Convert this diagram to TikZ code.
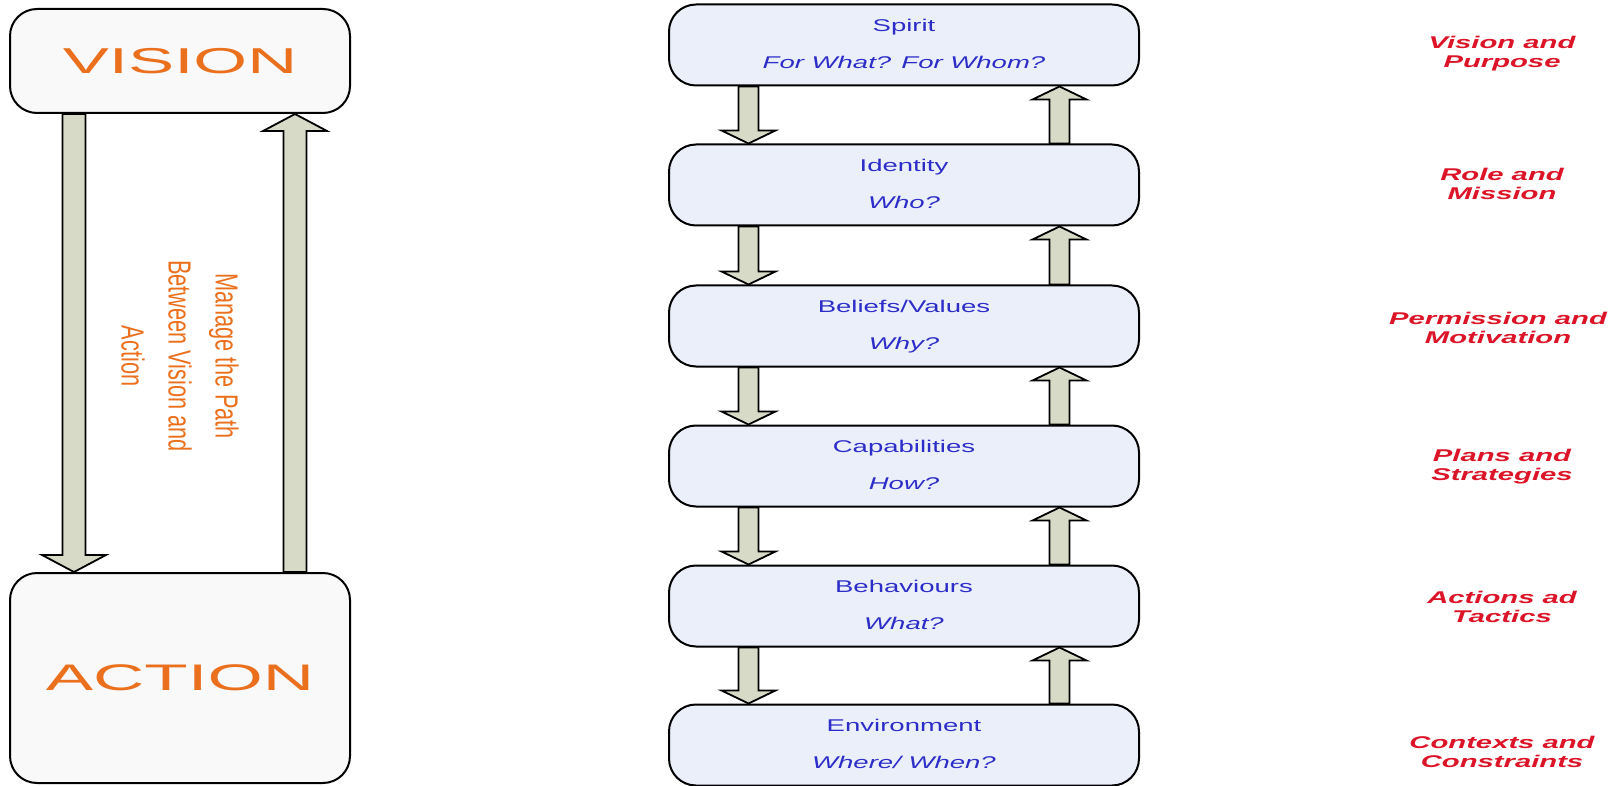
\documentclass[tikz,border=0pt]{standalone}
\usepackage{fontspec}
\setmainfont{Liberation Sans}
\newfontfamily\levelfont[FakeStretch=1.62]{Liberation Sans}
\newfontfamily\tagfont[FakeStretch=1.72]{Liberation Sans}
\newfontfamily\bigfont[FakeStretch=1.92]{Liberation Sans}
\newfontfamily\narrowfont[FakeStretch=0.68]{Liberation Sans}
\usetikzlibrary{calc}

\definecolor{levelblue}{RGB}{45,45,200}
\definecolor{levelfill}{RGB}{234,239,250}
\definecolor{pathfill}{RGB}{249,249,249}
\definecolor{arrowfill}{RGB}{216,218,200}
\definecolor{visorange}{RGB}{235,112,30}
\definecolor{tagred}{RGB}{220,20,40}

\newcommand{\lvstrut}{\rule[-6pt]{0pt}{22pt}}
\def\shaft{10pt}
\def\headw{27pt}
\def\headlen{13pt}
% block arrow from the edge of one box to the edge of the other, at height x
\newcommand{\fatarrow}[3]{%
  \draw[fatarr] let \p1=(#1), \p2=(#2), \n1={sign(\y2-\y1)}, \n2={\y2-(\n1)*\headlen} in
    ({#3pt-\shaft},\y1) -- ({#3pt-\shaft},\n2) -- ({#3pt-\headw},\n2)
    -- (#3pt,\y2) -- ({#3pt+\headw},\n2) -- ({#3pt+\shaft},\n2)
    -- ({#3pt+\shaft},\y1) -- cycle;}

\tikzset{
  level/.style={draw, line width=2pt, rounded corners=27pt, fill=levelfill,
    minimum width=470pt, minimum height=81pt, align=center, text=levelblue,
    font=\levelfont\fontsize{17}{37}\selectfont},
  pathbox/.style={draw, line width=2pt, rounded corners=27pt, fill=pathfill,
    minimum width=340pt, text=visorange},
  tag/.style={text=tagred, align=center,
    font=\tagfont\bfseries\itshape\fontsize{17}{19}\selectfont},
  fatarr/.style={draw, line width=1.8pt, fill=arrowfill, line join=miter},
}

\begin{document}
\begin{tikzpicture}[x=1pt, y=-1pt]
	\useasboundingbox (0,0) rectangle (1619,786);

	\node[pathbox, minimum height=104pt, font=\bigfont\fontsize{36}{40}\selectfont] (vision) at (180,61) {VISION};
	\node[pathbox, minimum height=210pt, font=\bigfont\fontsize{37}{40}\selectfont] (action) at (180,678) {ACTION};
	\node[rotate=-90, text=visorange, align=center, font=\narrowfont\fontsize{32}{47}\selectfont] (manage) at (180,356) {Manage the Path\\Between Vision and\\Action};

	\node[level] (spirit) at (904,45) {\lvstrut Spirit\\\lvstrut\textit{For What? For Whom?}};
	\node[level] (identity) at (904,185) {\lvstrut Identity\\\lvstrut\textit{Who?}};
	\node[level] (beliefs) at (904,326) {\lvstrut Beliefs/Values\\\lvstrut\textit{Why?}};
	\node[level] (capab) at (904,466) {\lvstrut Capabilities\\\lvstrut\textit{How?}};
	\node[level] (behav) at (904,606) {\lvstrut Behaviours\\\lvstrut\textit{What?}};
	\node[level] (environ) at (904,745) {\lvstrut Environment\\\lvstrut\textit{Where/ When?}};

	\node[tag] (purpose) at (1502,54) {Vision and\\Purpose};
	\node[tag] (mission) at (1502,184) {Role and\\Mission};
	\node[tag] (motiv) at (1498,328) {Permission and\\Motivation};
	\node[tag] (plans) at (1502,467) {Plans and\\Strategies};
	\node[tag] (tactics) at (1502,607) {Actions ad\\Tactics};
	\node[tag] (contexts) at (1502,752) {Contexts and\\Constraints};

	\fatarrow{spirit.south}{identity.north}{748.5}
	\fatarrow{identity.south}{beliefs.north}{748.5}
	\fatarrow{beliefs.south}{capab.north}{748.5}
	\fatarrow{capab.south}{behav.north}{748.5}
	\fatarrow{behav.south}{environ.north}{748.5}
	\fatarrow{identity.north}{spirit.south}{1059.5}
	\fatarrow{beliefs.north}{identity.south}{1059.5}
	\fatarrow{capab.north}{beliefs.south}{1059.5}
	\fatarrow{behav.north}{capab.south}{1059.5}
	\fatarrow{environ.north}{behav.south}{1059.5}

	\def\shaft{11.5pt}
	\def\headw{32pt}
	\def\headlen{17pt}
	\fatarrow{vision.south}{action.north}{74}
	\fatarrow{action.north}{vision.south}{295}

\end{tikzpicture}
\end{document}
